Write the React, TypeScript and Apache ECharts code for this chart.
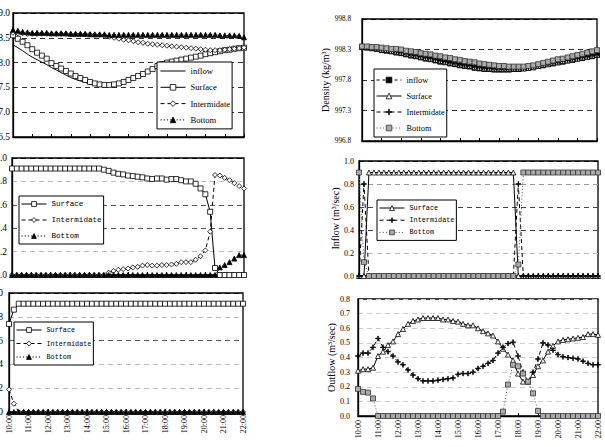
import { useEffect, useRef } from "react";
import * as echarts from "echarts";

// 15-minute time steps, 10:00 – 22:00
const times = [
  "10:00", "10:15", "10:30", "10:45", "11:00", "11:15", "11:30", "11:45",
  "12:00", "12:15", "12:30", "12:45", "13:00", "13:15", "13:30", "13:45",
  "14:00", "14:15", "14:30", "14:45", "15:00", "15:15", "15:30", "15:45",
  "16:00", "16:15", "16:30", "16:45", "17:00", "17:15", "17:30", "17:45",
  "18:00", "18:15", "18:30", "18:45", "19:00", "19:15", "19:30", "19:45",
  "20:00", "20:15", "20:30", "20:45", "21:00", "21:15", "21:30", "21:45",
  "22:00",
];

// Upper left panel (6.5 – 9.0)
const tlInflow = [
  8.36, 8.3, 8.24, 8.17, 8.11, 8.06, 8.01, 7.96, 7.9, 7.85,
  7.8, 7.75, 7.7, 7.66, 7.63, 7.6, 7.57, 7.56, 7.55, 7.55,
  7.55, 7.56, 7.58, 7.61, 7.65, 7.69, 7.73, 7.77, 7.82, 7.87,
  7.93, 7.97, 8.0, 8.02, 8.04, 8.06, 8.08, 8.1, 8.12, 8.14,
  8.17, 8.19, 8.21, 8.23, 8.25, 8.26, 8.28, 8.29, 8.3,
];
const tlSurface = [
  8.55, 8.48, 8.42, 8.35, 8.27, 8.2, 8.14, 8.08, 7.99, 7.93,
  7.88, 7.83, 7.78, 7.73, 7.69, 7.65, 7.61, 7.58, 7.56, 7.55,
  7.55, 7.56, 7.58, 7.61, 7.65, 7.69, 7.73, 7.77, 7.82, 7.87,
  7.93, 7.97, 8.0, 8.02, 8.04, 8.06, 8.08, 8.1, 8.12, 8.14,
  8.17, 8.19, 8.21, 8.23, 8.25, 8.26, 8.28, 8.29, 8.3,
];
const tlIntermediate = [
  8.6, 8.59, 8.59, 8.58, 8.58, 8.58, 8.58, 8.58, 8.58, 8.58,
  8.58, 8.58, 8.57, 8.57, 8.57, 8.57, 8.57, 8.56, 8.56, 8.54,
  8.52, 8.5, 8.48, 8.46, 8.45, 8.43, 8.41, 8.4, 8.38, 8.37,
  8.36, 8.35, 8.34, 8.33, 8.32, 8.31, 8.3, 8.29, 8.28, 8.27,
  8.26, 8.25, 8.25, 8.25, 8.26, 8.27, 8.28, 8.29, 8.3,
];
const tlBottom = [
  8.66, 8.64, 8.62, 8.61, 8.6, 8.6, 8.6, 8.6, 8.59, 8.59,
  8.59, 8.59, 8.58, 8.58, 8.58, 8.58, 8.57, 8.57, 8.57, 8.57,
  8.56, 8.56, 8.56, 8.56, 8.56, 8.56, 8.56, 8.56, 8.56, 8.56,
  8.56, 8.56, 8.56, 8.56, 8.56, 8.56, 8.56, 8.56, 8.56, 8.56,
  8.56, 8.56, 8.56, 8.55, 8.55, 8.55, 8.55, 8.54, 8.51,
];

// Middle left panel (0 – 1.0)
const mlSurface = [
  0.91, 0.91, 0.91, 0.91, 0.91, 0.91, 0.91, 0.91, 0.91, 0.91,
  0.91, 0.91, 0.91, 0.91, 0.91, 0.91, 0.91, 0.91, 0.91, 0.9,
  0.89, 0.875, 0.865, 0.86, 0.85, 0.845, 0.84, 0.835, 0.825, 0.82,
  0.825, 0.825, 0.815, 0.82, 0.82, 0.81, 0.8, 0.8, 0.78, 0.74,
  0.69, 0.54, 0.06, 0, 0, 0, 0, 0, 0,
];
const mlIntermediate = [
  0, 0, 0, 0, 0, 0, 0, 0, 0, 0,
  0, 0, 0, 0, 0, 0, 0, 0, 0, 0,
  0.02, 0.035, 0.045, 0.05, 0.055, 0.065, 0.07, 0.08, 0.085, 0.08,
  0.08, 0.085, 0.085, 0.09, 0.095, 0.11, 0.11, 0.11, 0.13, 0.16,
  0.21, 0.37, 0.855, 0.85, 0.83, 0.81, 0.785, 0.76, 0.74,
];
const mlBottom = [
  0, 0, 0, 0, 0, 0, 0, 0, 0, 0,
  0, 0, 0, 0, 0, 0, 0, 0, 0, 0,
  0, 0, 0, 0, 0, 0, 0, 0, 0, 0,
  0, 0, 0, 0, 0, 0, 0, 0, 0, 0,
  0, 0, 0, 0.065, 0.085, 0.11, 0.14, 0.17, 0.17,
];

// Lower left panel (0 – 1.0)
const blSurface = [
  0.74, 0.86, 0.91, 0.91, 0.91, 0.91, 0.91, 0.91, 0.91, 0.91,
  0.91, 0.91, 0.91, 0.91, 0.91, 0.91, 0.91, 0.91, 0.91, 0.91,
  0.91, 0.91, 0.91, 0.91, 0.91, 0.91, 0.91, 0.91, 0.91, 0.91,
  0.91, 0.91, 0.91, 0.91, 0.91, 0.91, 0.91, 0.91, 0.91, 0.91,
  0.91, 0.91, 0.91, 0.91, 0.91, 0.91, 0.91, 0.91, 0.91,
];
const blIntermediate = [
  0.19, 0.07, 0, 0, 0, 0, 0, 0, 0, 0,
  0, 0, 0, 0, 0, 0, 0, 0, 0, 0,
  0, 0, 0, 0, 0, 0, 0, 0, 0, 0,
  0, 0, 0, 0, 0, 0, 0, 0, 0, 0,
  0, 0, 0, 0, 0, 0, 0, 0, 0,
];
const blBottom = [
  0, 0, 0, 0, 0, 0, 0, 0, 0, 0,
  0, 0, 0, 0, 0, 0, 0, 0, 0, 0,
  0, 0, 0, 0, 0, 0, 0, 0, 0, 0,
  0, 0, 0, 0, 0, 0, 0, 0, 0, 0,
  0, 0, 0, 0, 0, 0, 0, 0, 0,
];

// Density (kg/m³)
const densInflow = [
  998.34, 998.33, 998.32, 998.31, 998.29, 998.28, 998.27, 998.25, 998.24, 998.22,
  998.2, 998.19, 998.17, 998.15, 998.14, 998.12, 998.1, 998.09, 998.07, 998.06,
  998.04, 998.03, 998.02, 998.0, 997.99, 997.98, 997.98, 997.97, 997.97, 997.97,
  997.97, 997.98, 997.98, 997.99, 998.0, 998.01, 998.03, 998.04, 998.06, 998.07,
  998.09, 998.1, 998.12, 998.13, 998.15, 998.16, 998.18, 998.19, 998.21,
];
const densSurface = [
  998.35, 998.34, 998.33, 998.32, 998.3, 998.29, 998.28, 998.26, 998.25, 998.23,
  998.21, 998.2, 998.18, 998.16, 998.15, 998.13, 998.11, 998.1, 998.08, 998.07,
  998.05, 998.04, 998.03, 998.01, 998.0, 997.99, 997.99, 997.98, 997.98, 997.98,
  997.98, 997.99, 997.99, 997.99, 998.0, 998.01, 998.03, 998.05, 998.06, 998.08,
  998.09, 998.11, 998.12, 998.14, 998.15, 998.17, 998.18, 998.2, 998.21,
];
const densIntermediate = [
  998.35, 998.34, 998.34, 998.33, 998.31, 998.3, 998.29, 998.27, 998.26, 998.24,
  998.22, 998.21, 998.19, 998.17, 998.16, 998.14, 998.12, 998.11, 998.09, 998.08,
  998.06, 998.05, 998.04, 998.02, 998.01, 998.0, 998.0, 997.99, 997.99, 997.99,
  997.99, 998.0, 998.0, 998.0, 998.01, 998.02, 998.04, 998.06, 998.07, 998.09,
  998.1, 998.12, 998.13, 998.15, 998.16, 998.18, 998.19, 998.21, 998.22,
];
const densBottom = [
  998.35, 998.35, 998.34, 998.34, 998.33, 998.32, 998.31, 998.31, 998.3, 998.28,
  998.27, 998.26, 998.24, 998.23, 998.22, 998.2, 998.19, 998.17, 998.16, 998.14,
  998.13, 998.11, 998.1, 998.09, 998.07, 998.06, 998.05, 998.04, 998.03, 998.03,
  998.02, 998.02, 998.02, 998.02, 998.03, 998.04, 998.06, 998.08, 998.1, 998.12,
  998.14, 998.15, 998.17, 998.19, 998.21, 998.23, 998.25, 998.27, 998.29,
];

// Inflow (m³/sec)
const inSurface = [
  0, 0, 0.9, 0.9, 0.9, 0.9, 0.9, 0.9, 0.9, 0.9,
  0.9, 0.9, 0.9, 0.9, 0.9, 0.9, 0.9, 0.9, 0.9, 0.9,
  0.9, 0.9, 0.9, 0.9, 0.9, 0.9, 0.9, 0.9, 0.9, 0.9,
  0.9, 0.9, 0, 0, 0, 0, 0, 0, 0, 0,
  0, 0, 0, 0, 0, 0, 0, 0, 0,
];
const inIntermediate = [
  0, 0.8, 0, 0, 0, 0, 0, 0, 0, 0,
  0, 0, 0, 0, 0, 0, 0, 0, 0, 0,
  0, 0, 0, 0, 0, 0, 0, 0, 0, 0,
  0, 0, 0.8, 0, 0, 0, 0, 0, 0, 0,
  0, 0, 0, 0, 0, 0, 0, 0, 0,
];
const inBottom = [
  0.9, 0.12, 0, 0, 0, 0, 0, 0, 0, 0,
  0, 0, 0, 0, 0, 0, 0, 0, 0, 0,
  0, 0, 0, 0, 0, 0, 0, 0, 0, 0,
  0, 0, 0.1, 0.9, 0.9, 0.9, 0.9, 0.9, 0.9, 0.9,
  0.9, 0.9, 0.9, 0.9, 0.9, 0.9, 0.9, 0.9, 0.9,
];

// Outflow (m³/sec)
const outSurface = [
  0.31, 0.32, 0.32, 0.33, 0.41, 0.44, 0.485, 0.51, 0.56, 0.595,
  0.63, 0.65, 0.66, 0.67, 0.67, 0.67, 0.67, 0.66, 0.66, 0.65,
  0.645, 0.63, 0.62, 0.62, 0.6, 0.58, 0.565, 0.55, 0.51, 0.46,
  0.42, 0.38, 0.29, 0.235, 0.235, 0.28, 0.34, 0.38, 0.44, 0.48,
  0.51, 0.52, 0.525, 0.53, 0.535, 0.54, 0.56, 0.56, 0.555,
];
const outIntermediate = [
  0.41, 0.43, 0.43, 0.47, 0.53, 0.47, 0.44, 0.41, 0.37, 0.35,
  0.315, 0.28, 0.255, 0.24, 0.24, 0.24, 0.245, 0.25, 0.255, 0.26,
  0.285, 0.29, 0.29, 0.3, 0.325, 0.34, 0.36, 0.38, 0.43, 0.47,
  0.495, 0.505, 0.41, 0.3, 0.235, 0.3, 0.39, 0.5, 0.485, 0.45,
  0.42, 0.405, 0.4, 0.395, 0.39, 0.375, 0.36, 0.35, 0.35,
];
const outBottom = [
  0.185, 0.165, 0.16, 0.12, 0, 0, 0, 0, 0, 0,
  0, 0, 0, 0, 0, 0, 0, 0, 0, 0,
  0, 0, 0, 0, 0, 0, 0, 0, 0, 0.03,
  0.215, 0.35, 0.34, 0.29, 0.235, 0.155, 0.035, 0, 0, 0,
  0, 0, 0, 0, 0, 0, 0, 0, 0,
];

const LEGEND_TEXT: Record<string, string> = {
  tlInflow: "inflow",
  tlSurface: "Surface",
  tlIntermediate: "Intermidate",
  tlBottom: "Bottom",
  mlSurface: "Surface",
  mlIntermediate: "Intermidate",
  mlBottom: "Bottom",
  blSurface: "Surface",
  blIntermediate: "Intermidate",
  blBottom: "Bottom",
  densInflow: "inflow",
  densSurface: "Surface",
  densIntermediate: "Intermidate",
  densBottom: "Bottom",
  inSurface: "Surface",
  inIntermediate: "Intermidate",
  inBottom: "Bottom",
};

const SERIF = "'Liberation Serif', 'Times New Roman', serif";
const MONO = "'Liberation Mono', 'DejaVu Sans Mono', monospace";
const PLUS =
  "path://M-0.1,-1H0.1V-0.1H1V0.1H0.1V1H-0.1V0.1H-1V-0.1H-0.1Z";

const SOLID = "solid";
const DASH = [4, 3];
const DOT = [1.2, 2];

type Mark = { symbol: string; size: number; fill: string; stroke: string };
const openMark = (symbol: string, size = 5): Mark => ({ symbol, size, fill: "#fff", stroke: "#000" });
const fillMark = (symbol: string, size = 5, fill = "#000", stroke = "#000"): Mark => ({
  symbol,
  size,
  fill,
  stroke,
});

function line(
  id: string,
  grid: number,
  data: number[],
  type: any,
  width: number,
  mark: Mark | null,
  color = "#000"
) {
  return {
    type: "line",
    id,
    name: id,
    xAxisIndex: grid,
    yAxisIndex: grid,
    data,
    symbol: mark ? mark.symbol : "none",
    symbolSize: mark ? mark.size : 0,
    showSymbol: !!mark,
    showAllSymbol: true,
    lineStyle: { color, width, type },
    itemStyle: mark
      ? { color: mark.fill, borderColor: mark.stroke, borderWidth: 0.8 }
      : { color },
    emphasis: { disabled: true },
    silent: true,
  };
}

type PanelAxis = {
  min: number;
  max: number;
  interval: number;
  margin: number;
  labelSize: number;
  gridColors: string[];
  xLabels: boolean;
  xMargin?: number;
  title?: string;
  nameGap?: number;
};

function axes(gi: number, p: PanelAxis) {
  const xAxis = {
    type: "category",
    gridIndex: gi,
    data: times,
    boundaryGap: false,
    axisLine: { show: true, lineStyle: { color: "#000", width: 1.3 } },
    axisTick: { show: true, inside: true, interval: 3, length: 3, lineStyle: { color: "#000" } },
    axisLabel: {
      show: p.xLabels,
      interval: 3,
      rotate: 90,
      fontFamily: SERIF,
      fontSize: 8,
      color: "#000",
      margin: p.xMargin ?? 4,
    },
    splitLine: { show: false },
  };
  const yAxis: any = {
    type: "value",
    gridIndex: gi,
    min: p.min,
    max: p.max,
    interval: p.interval,
    axisLine: { show: true, lineStyle: { color: "#000", width: 1.3 } },
    axisTick: { show: false },
    axisLabel: {
      fontFamily: SERIF,
      fontSize: p.labelSize,
      color: "#000",
      margin: p.margin,
      formatter: (v: number) => v.toFixed(1),
    },
    splitLine: { show: true, lineStyle: { type: [5, 4], color: p.gridColors, width: 1 } },
  };
  if (p.title) {
    yAxis.name = p.title;
    yAxis.nameLocation = "middle";
    yAxis.nameRotate = 90;
    yAxis.nameGap = p.nameGap;
    yAxis.nameTextStyle = { fontFamily: SERIF, fontSize: 10, color: "#000" };
  }
  return { xAxis, yAxis };
}

function legend(
  ids: string[],
  left: number,
  top: number,
  font: string,
  size: number,
  lineHeight: number,
  gap: number,
  padding: number[],
  itemHeight: number,
  plainLine: string[] = []
) {
  return {
    show: true,
    orient: "vertical",
    left,
    top,
    data: ids.map((id) =>
      plainLine.includes(id) ? { name: id, itemStyle: { opacity: 0 } } : { name: id }
    ),
    formatter: (n: string) => LEGEND_TEXT[n] ?? n,
    itemWidth: 25,
    itemHeight,
    itemGap: gap,
    padding,
    backgroundColor: "#fff",
    borderColor: "#000",
    borderWidth: 1,
    selectedMode: false,
    itemStyle: { borderWidth: 0.8 },
    lineStyle: { width: 1 },
    textStyle: { fontFamily: font, fontSize: size, lineHeight, color: "#000" },
  };
}

function buildOption() {
  const grids = [
    { left: 13, top: 13, width: 231, height: 124 },
    { left: 12, top: 158, width: 232, height: 117 },
    { left: 9, top: 293, width: 234, height: 119 },
    { left: 362, top: 19, width: 235, height: 122 },
    { left: 359, top: 161, width: 239, height: 115 },
    { left: 358, top: 299, width: 240, height: 117 },
  ].map((g) => ({
    ...g,
    show: true,
    borderColor: "#000",
    borderWidth: 1.3,
    containLabel: false,
    outerBoundsMode: "none",
  }));

  const specs: PanelAxis[] = [
    { min: 6.5, max: 9.0, interval: 0.5, margin: 3, labelSize: 9.5, xLabels: false,
      gridColors: ["#000", "#333", "#333", "#333", "#333", "#000"] },
    { min: 0, max: 1.0, interval: 0.2, margin: 5, labelSize: 9.5, xLabels: false,
      gridColors: ["#000", "#bbb", "#555", "#555", "#bbb", "#000"] },
    { min: 0, max: 1.0, interval: 0.2, margin: 6, labelSize: 9.5, xLabels: true, xMargin: 3,
      gridColors: ["#000", "#bbb", "#bbb", "#555", "#bbb", "#000"] },
    { min: 996.8, max: 998.8, interval: 0.5, margin: 11, labelSize: 7.2, xLabels: false,
      gridColors: ["#000", "#333", "#333", "#333", "#000"],
      title: "Density (kg/m³)", nameGap: 28 },
    { min: 0, max: 1.0, interval: 0.2, margin: 5, labelSize: 8, xLabels: false,
      gridColors: ["#000", "#bbb", "#444", "#444", "#999", "#000"],
      title: "Inflow (m³/sec)", nameGap: 18 },
    { min: 0, max: 0.8, interval: 0.1, margin: 8, labelSize: 8, xLabels: true, xMargin: 4,
      gridColors: ["#ccc"],
      title: "Outflow (m³/sec)", nameGap: 21 },
  ];

  const xAxis: any[] = [];
  const yAxis: any[] = [];
  specs.forEach((s, i) => {
    const a = axes(i, s);
    xAxis.push(a.xAxis);
    yAxis.push(a.yAxis);
  });

  const series = [
    // upper left
    line("tlInflow", 0, tlInflow, SOLID, 1, null),
    line("tlSurface", 0, tlSurface, SOLID, 1, openMark("rect", 5)),
    line("tlIntermediate", 0, tlIntermediate, DASH, 1, openMark("diamond", 5)),
    line("tlBottom", 0, tlBottom, DOT, 1, fillMark("triangle", 5)),
    // middle left
    line("mlSurface", 1, mlSurface, SOLID, 1, openMark("rect", 5)),
    line("mlIntermediate", 1, mlIntermediate, DASH, 1, openMark("diamond", 5)),
    line("mlBottom", 1, mlBottom, DOT, 1, fillMark("triangle", 5)),
    // lower left
    line("blSurface", 2, blSurface, SOLID, 1, openMark("rect", 5)),
    line("blIntermediate", 2, blIntermediate, DASH, 1, openMark("diamond", 5)),
    line("blBottom", 2, blBottom, DOT, 1, fillMark("triangle", 5)),
    // density
    line("densInflow", 3, densInflow, [3, 3], 2, fillMark("rect", 5)),
    line("densSurface", 3, densSurface, SOLID, 1, openMark("triangle", 5)),
    line("densIntermediate", 3, densIntermediate, DASH, 1, fillMark(PLUS, 5)),
    line("densBottom", 3, densBottom, DOT, 1, fillMark("rect", 5, "#aaa", "#333"), "#666"),
    // inflow
    line("inSurface", 4, inSurface, SOLID, 1, openMark("triangle", 5)),
    line("inIntermediate", 4, inIntermediate, DASH, 1, fillMark(PLUS, 5)),
    line("inBottom", 4, inBottom, DOT, 1, fillMark("rect", 5, "#aaa", "#333"), "#666"),
    // outflow
    line("outSurface", 5, outSurface, SOLID, 1, openMark("triangle", 5)),
    line("outIntermediate", 5, outIntermediate, DASH, 1, fillMark(PLUS, 5)),
    line("outBottom", 5, outBottom, DOT, 1, fillMark("rect", 5, "#aaa", "#333"), "#666"),
  ];

  const legends = [
    legend(["tlInflow", "tlSurface", "tlIntermediate", "tlBottom"], 157, 62, SERIF, 8.6, 12, 4.3,
      [3, 2, 3, 3], 7, ["tlInflow"]),
    legend(["mlSurface", "mlIntermediate", "mlBottom"], 19, 196, MONO, 7.6, 12, 4, [2, 2, 2, 2], 6),
    legend(["blSurface", "blIntermediate", "blBottom"], 14, 322, MONO, 6.8, 10, 3.5, [3, 2, 3, 2], 6),
    legend(["densInflow", "densSurface", "densIntermediate", "densBottom"], 374, 69, SERIF, 8.3, 12, 4,
      [5, 2, 3, 2], 7),
    legend(["inSurface", "inIntermediate", "inBottom"], 377, 200, MONO, 6.8, 10, 2.2, [3, 2, 3, 2], 6),
  ];

  return {
    animation: false,
    backgroundColor: "#fff",
    grid: grids,
    xAxis,
    yAxis,
    legend: legends,
    series,
  };
}

export default function App() {
  const ref = useRef<HTMLDivElement>(null);
  useEffect(() => {
    if (!ref.current) return;
    const chart = echarts.init(ref.current, null, { renderer: "svg" });
    chart.setOption(buildOption() as any);
    return () => chart.dispose();
  }, []);
  return (
    <div
      ref={ref}
      style={{ position: "absolute", left: 0, top: 0, width: 605, height: 447, background: "#fff" }}
    />
  );
}
